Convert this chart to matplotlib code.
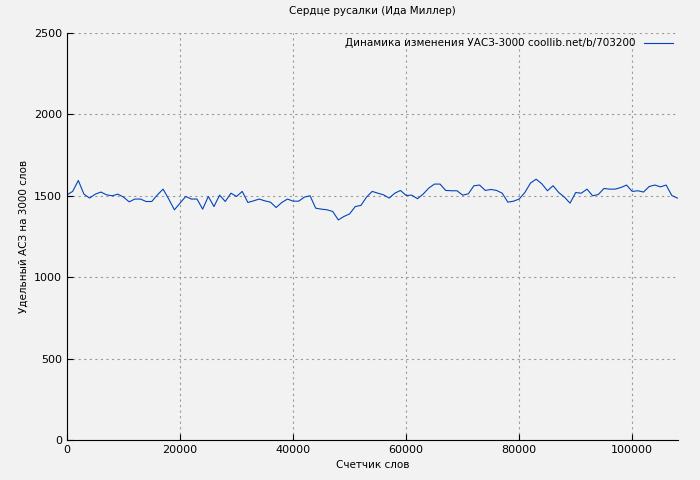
import numpy as np
import matplotlib
matplotlib.use("Agg")
import matplotlib.pyplot as plt

zy1 = [105,95,62,103,115,103,97,105,108,103,112,126,118,118,125,125,105,88,118,150,130,110,118,118,148,110,140,106,125,100,110,95,128,123,118,123,127,143,128,118,124,124,112,108,145,148,150,155,180,170,162,140,137,112,95,100]
zy2 = [105,115,100,92,107,106,117,103,85,73,73,92,93,93,106,102,78,76,92,89,92,100,127,124,118,98,70,58,72,93,78,98,112,130,98,100,88,108,104,86,88,88,83,76,95,93,97,80,76,81,76,107,115]
values = [round(1500 + (108 - z) * 2.05) for z in zy1 + zy2]
words = [i * 1000 for i in range(len(values))]

fig = plt.figure(figsize=(7, 4.8), dpi=100, facecolor="#f2f2f2")
ax = fig.add_axes([67/700, 40/480, 611/700, 407/480])
ax.set_facecolor("#f2f2f2")
ax.plot(words, values, color="#0044bb", lw=0.8, label="Динамика изменения УАСЗ-3000 coollib.net/b/703200")
ax.set_xlim(0, 108100)
ax.set_ylim(0, 2500)
ax.set_xticks([0, 20000, 40000, 60000, 80000, 100000])
ax.set_yticks([0, 500, 1000, 1500, 2000, 2500])
ax.grid(True, color="#999999", ls=(0, (2, 3)), lw=0.8)
ax.tick_params(labelsize=8, direction="in", length=4)
for s in ["top", "right"]:
    ax.spines[s].set_visible(False)
ax.set_title("Сердце русалки (Ида Миллер)", fontsize=7.5, pad=14)
ax.set_xlabel("Счетчик слов", fontsize=7.5)
ax.set_ylabel("Удельный АСЗ на 3000 слов", fontsize=7.5)
ax.legend(loc="upper right", fontsize=7.5, frameon=False, markerfirst=False, handlelength=2.8, borderaxespad=0.1)
fig.savefig("out.png", dpi=100, facecolor="#f2f2f2")
